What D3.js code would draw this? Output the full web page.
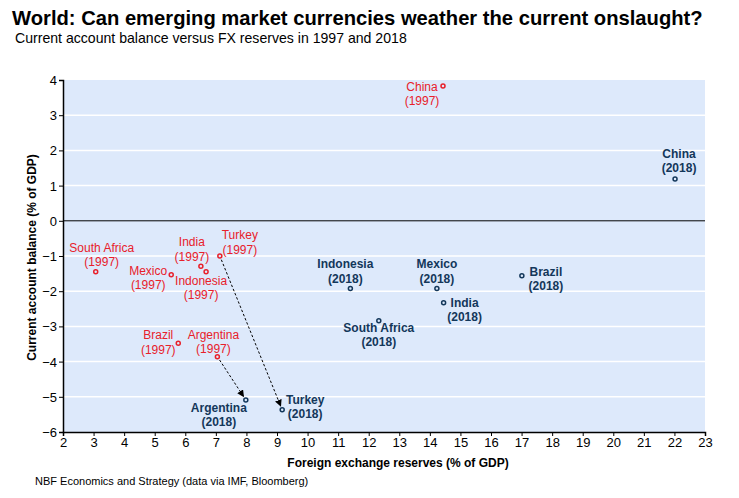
<!DOCTYPE html>
<html>
<head>
<meta charset="utf-8">
<script src="https://cdn.jsdelivr.net/npm/d3@7"></script>
<style>
  body { margin: 0; background: #fff; }
  svg { font-family: "Liberation Sans", Arial, sans-serif; display: block; }
</style>
</head>
<body>
<div id="chart"></div>
<script>
// Data: FX reserves (% of GDP) vs current account balance (% of GDP)
const countries = ["China", "South Africa", "Mexico", "India", "Indonesia", "Turkey", "Brazil", "Argentina"];
const reserves1997 = [14.43, 3.07, 5.54, 6.51, 6.68, 7.13, 5.77, 7.05];
const balance1997  = [3.83, -1.45, -1.53, -1.29, -1.45, -1.0, -3.48, -3.86];
const reserves2018 = [22.02, 12.33, 14.23, 14.45, 11.40, 9.17, 17.01, 7.98];
const balance2018  = [1.19, -2.84, -1.92, -2.33, -1.92, -5.37, -1.56, -5.09];
const arrowCountries = ["Argentina", "Turkey"];
const xTicks = d3.range(2, 24);
const yTicks = d3.range(-6, 5);

// label placement (offset of first line centre from the point)
const labelPos1997 = {
  "China":        [-21, 1],
  "South Africa": [6, -24],
  "Mexico":       [-23, -4],
  "India":        [-9, -24],
  "Indonesia":    [-5, 9],
  "Turkey":       [20, -21],
  "Brazil":       [-20, -8],
  "Argentina":    [-4, -22]
};
const labelPos2018 = {
  "China":        [4, -25],
  "South Africa": [0, 7],
  "Mexico":       [0, -24],
  "India":        [21, 0],
  "Indonesia":    [-5, -24],
  "Turkey":       [23, -10],
  "Brazil":       [24, -4],
  "Argentina":    [-27, 8]
};

const RED  = "#e8202a";
const NAVY = "#13375a";
const BG   = "#dde9fb";

const W = 739, H = 498;
const margin = { top: 80, right: 34, bottom: 66, left: 63 };
const width  = W - margin.left - margin.right;
const height = H - margin.top - margin.bottom;

const root = d3.select("#chart").append("svg")
  .attr("width", W).attr("height", H);

root.append("defs").append("marker")
  .attr("id", "arrow")
  .attr("viewBox", "0 0 10 10")
  .attr("refX", 9).attr("refY", 5)
  .attr("markerWidth", 7).attr("markerHeight", 7)
  .attr("markerUnits", "userSpaceOnUse")
  .attr("orient", "auto")
  .append("path")
    .attr("d", "M0,0 L10,5 L0,10 Z")
    .attr("fill", "#000");

// Titles
root.append("text")
  .attr("x", 12).attr("y", 25)
  .attr("font-size", "20.2px").attr("font-weight", "700").attr("fill", "#000")
  .text("World: Can emerging market currencies weather the current onslaught?");

root.append("text")
  .attr("x", 15).attr("y", 43)
  .attr("font-size", "14.1px").attr("fill", "#000")
  .text("Current account balance versus FX reserves in 1997 and 2018");

const svg = root.append("g")
  .attr("transform", `translate(${margin.left},${margin.top})`);

const x = d3.scaleLinear().domain([2, 23]).range([0, width]);
const y = d3.scaleLinear().domain([-6, 4]).range([height, 0]);

svg.append("rect")
  .attr("width", width).attr("height", height)
  .attr("fill", BG);

// gridlines
svg.selectAll(".grid")
  .data(yTicks.filter(d => d !== 0 && d !== -6 && d !== 4))
  .join("line")
    .attr("x1", 0).attr("x2", width)
    .attr("y1", d => y(d)).attr("y2", d => y(d))
    .attr("stroke", "#fff").attr("stroke-width", 1.5);

svg.append("line")
  .attr("x1", 0).attr("x2", width)
  .attr("y1", y(0)).attr("y2", y(0))
  .attr("stroke", "#000").attr("stroke-width", 1);

// Axes
const xAxis = svg.append("g")
  .attr("transform", `translate(0,${height})`)
  .call(d3.axisBottom(x).tickValues(xTicks).tickSize(4).tickPadding(2));

const yAxis = svg.append("g")
  .call(d3.axisLeft(y).tickValues(yTicks).tickSize(4).tickPadding(2));

[xAxis, yAxis].forEach(g => {
  g.select(".domain").attr("stroke", "#000").attr("stroke-width", 1.5);
  g.selectAll(".tick line").attr("stroke", "#000");
  g.selectAll(".tick text")
    .attr("font-family", "'Liberation Sans', Arial, sans-serif")
    .attr("font-size", "13px").attr("fill", "#000");
});
yAxis.selectAll(".tick text").attr("dy", "0.35em");

svg.append("text")
  .attr("x", width / 2 + 14).attr("y", height + 35)
  .attr("text-anchor", "middle")
  .attr("font-size", "12px").attr("font-weight", "700")
  .text("Foreign exchange reserves (% of GDP)");

svg.append("text")
  .attr("transform", `translate(-27,${height / 2 + 1.5}) rotate(-90)`)
  .attr("text-anchor", "middle")
  .attr("font-size", "12px").attr("font-weight", "700")
  .text("Current account balance (% of GDP)");

root.append("text")
  .attr("x", 35).attr("y", 485)
  .attr("font-size", "11px").attr("fill", "#000")
  .text("NBF Economics and Strategy (data via IMF, Bloomberg)");

// Build point sets
const pts1997 = countries.map((c, i) => ({ name: c, year: 1997, x: reserves1997[i], y: balance1997[i] }));
const pts2018 = countries.map((c, i) => ({ name: c, year: 2018, x: reserves2018[i], y: balance2018[i] }));

// Arrows
arrowCountries.forEach(c => {
  const a = pts1997.find(p => p.name === c);
  const b = pts2018.find(p => p.name === c);
  const x1 = x(a.x), y1 = y(a.y), x2 = x(b.x), y2 = y(b.y);
  const len = Math.hypot(x2 - x1, y2 - y1);
  const ux = (x2 - x1) / len, uy = (y2 - y1) / len;
  svg.append("line")
    .attr("x1", x1 + ux * 4).attr("y1", y1 + uy * 4)
    .attr("x2", x2 - ux * 4).attr("y2", y2 - uy * 4)
    .attr("stroke", "#000").attr("stroke-width", 1)
    .attr("stroke-dasharray", "2.5 2")
    .attr("marker-end", "url(#arrow)");
});

function drawSet(pts, color, weight, pos) {
  svg.selectAll(null)
    .data(pts)
    .join("circle")
      .attr("cx", d => x(d.x)).attr("cy", d => y(d.y))
      .attr("r", 2)
      .attr("fill", BG)
      .attr("stroke", color).attr("stroke-width", 1.5);

  const lab = svg.selectAll(null)
    .data(pts)
    .join("text")
      .attr("text-anchor", "middle")
      .attr("font-size", "12px")
      .attr("font-weight", weight)
      .attr("fill", color)
      .attr("x", d => x(d.x) + pos[d.name][0])
      .attr("y", d => y(d.y) + pos[d.name][1] + 4);
  lab.append("tspan").text(d => d.name);
  lab.append("tspan")
    .attr("x", d => x(d.x) + pos[d.name][0])
    .attr("dy", 14.5)
    .text(d => `(${d.year})`);
}

drawSet(pts1997, RED, "400", labelPos1997);
drawSet(pts2018, NAVY, "700", labelPos2018);
</script>
</body>
</html>
